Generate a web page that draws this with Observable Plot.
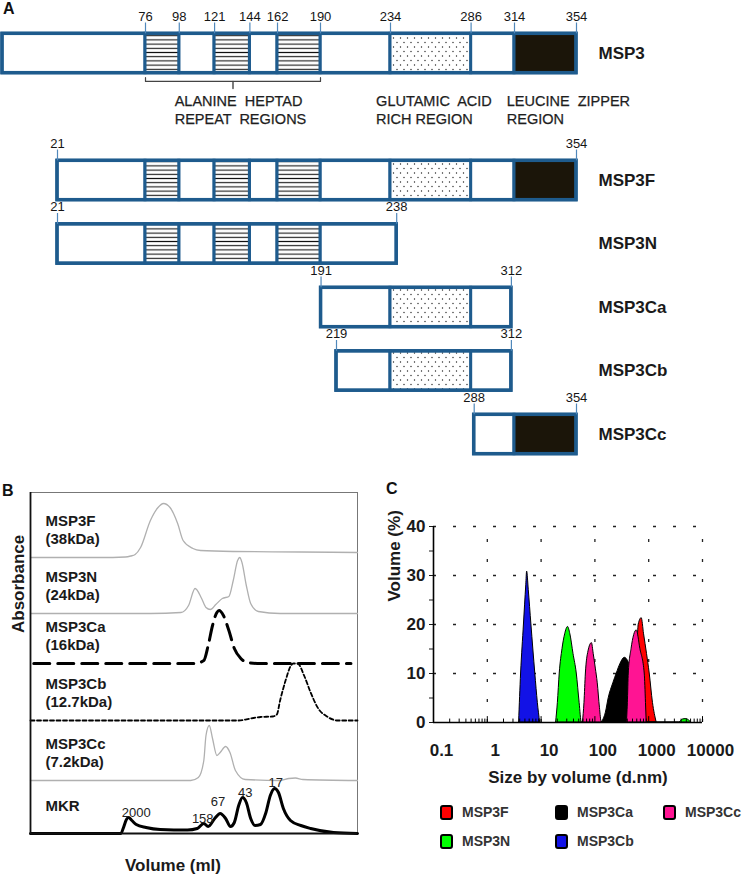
<!DOCTYPE html>
<html><head><meta charset="utf-8">
<script src="https://cdn.jsdelivr.net/npm/d3@7"></script>
<script src="https://cdn.jsdelivr.net/npm/@observablehq/plot@0.6"></script>
<style>
body{margin:0;background:#fff;}
#root{position:relative;width:745px;height:878px;overflow:hidden;background:#fff;font-family:"Liberation Sans",Arial,sans-serif;}
.panel{position:absolute;}
.letter{position:absolute;font-weight:bold;font-size:16px;color:#111;}
.legend{position:absolute;left:440px;top:802px;display:grid;grid-template-columns:115px 108px 90px;row-gap:9px;font-weight:bold;font-size:14px;color:#333;}
.item{display:flex;align-items:center;height:20px;white-space:nowrap;}
.sw{width:9px;height:11px;border:2px solid #000;border-radius:3px;margin-right:9px;flex:none;}
</style></head><body><div id="root"></div><script>
// ---------- Panel A data ----------
const constructNames = ["MSP3","MSP3F","MSP3N","MSP3Ca","MSP3Cb","MSP3Cc"];
const constructRows = [0,2,3,4,5,6]; // row 1 holds the region annotations
const constructStart = [1,21,21,191,219,288];
const constructEnd = [354,354,238,312,312,354];
const regionStart = [76,121,162,234,314];
const regionEnd = [98,144,190,286,354];
const regionKind = ["heptad","heptad","heptad","glutamic","leucine"];
const msp3TickLabels = [76,98,121,144,162,190,234,286,314,354];
const annotationText = ["ALANINE  HEPTAD\nREPEAT  REGIONS","GLUTAMIC  ACID\nRICH REGION","LEUCINE  ZIPPER\nREGION"];
const annotationAt = [95,230,309];

// ---------- Panel B data (elution volume, absorbance above each baseline) ----------
const traceNames = ["MSP3F","MSP3N","MSP3Ca","MSP3Cb","MSP3Cc","MKR"];
const traceMasses = ["(38kDa)","(24kDa)","(16kDa)","(12.7kDa)","(7.2kDa)",""];
const traceOffsets = [27.6,22.0,17.0,11.3,5.3,0];
const fVol = [0,6.4,8.7,9.2,9.6,10.1,11.0,11.7,12.2,12.8,13.5,14.0,14.9,15.6,18.6,24.8,30];
const fAbs = [0,0,0.05,0.15,0.3,1.0,3.7,5.0,5.4,5.0,3.4,1.7,0.9,0.7,0.6,0.55,0.5];
const nVol = [0,11.0,13.8,14.5,15.1,15.7,16.1,16.5,17.0,17.6,18.2,18.6,19.0,19.2,19.4,19.8,20.2,20.9,22.9,30];
const nAbs = [0,0,0.1,0.8,2.5,1.5,0.6,0.4,0.9,1.5,1.7,3.3,5.3,5.6,5.1,2.8,1.0,0.2,0,0];
const caVol = [0.3,15.1,15.9,16.3,16.7,17.1,17.3,17.7,18.2,18.7,19.3,19.9,21.1,29.4];
const caAbs = [0,0,0.3,1.8,3.8,5.1,5.3,4.8,3.3,1.5,0.5,0.1,0,0];
const cbVol = [0,19.1,20.2,21.1,22.2,22.6,22.9,23.4,23.9,24.1,24.5,25.1,25.7,26.4,27.2,28.2,30];
const cbAbs = [0,0,0.2,0.35,0.4,0.6,2.0,4.0,5.5,5.7,5.7,4.5,2.8,1.2,0.4,0,0];
const ccVol = [0,14.7,15.4,15.9,16.1,16.4,16.7,17.1,17.4,17.9,18.3,18.8,19.7,22.9,23.7,24.3,25.0,30];
const ccAbs = [0,0,0.3,2.0,4.5,5.5,4.2,2.5,2.8,3.4,2.8,1.0,0.1,0,0.2,0.25,0.1,0];
const mkrVol = [0,8.3,8.5,8.8,9.0,9.3,9.7,10.6,11.9,14.4,15.3,15.9,16.3,16.9,17.4,17.9,18.35,18.7,19.1,19.45,19.8,20.2,20.6,21.1,21.6,22.0,22.4,22.75,23.2,23.85,24.8,25.7,27.8,30];
const mkrAbs = [0,0,0.5,1.4,1.6,1.3,0.9,0.6,0.4,0.35,0.5,1.0,0.7,1.5,2.0,1.5,0.7,1.1,2.8,3.6,3.1,1.5,0.8,0.9,2.1,3.8,4.5,4.1,2.5,1.3,0.8,0.5,0.1,0];
const markerLabels = ["2000","158","67","43","17"];
const markerVol = [9.7,15.8,17.2,19.7,22.5];
const markerAbs = [2.1,1.5,3.2,4.1,5.1];

// ---------- Panel C data (size in d.nm, volume %) ----------
const dlsNames = ["MSP3F","MSP3N","MSP3Ca","MSP3Cb","MSP3Cc"];
const dlsColors = ["#ff0000","#00ff00","#000000","#1212e6","#ff1493"];
const redSize = [430,520,600,653,741,820,930,1044,1200,1406];
const redVol = [0,5,12,20,21.3,18,14,10,4,0];
const greenSize = [19,20.5,22.2,25,28,31.6,35,40,46,52,57,3700,4300,5000,5800,6200];
const greenVol = [0,4,10,15,18,19.5,18,14,10,4,0,0,0.6,0.7,0.3,0];
const blackSize = [134,160,181,220,255,300,359,400,450,480,520,560];
const blackVol = [0,2,5,8,10,12,13.2,12.8,11,6,2,0];
const blueSize = [3.9,4.25,4.8,5.3,5.5,5.9,6.6,7.8,8.7,9.6];
const blueVol = [0,10,20,28,30.8,27,20,10,4,0];
const pinkSize = [60,64,68,76,88,95,104,113,124,134,390,410,426,480,600,700,843,890,918];
const pinkVol = [0,4,10,14.5,16.2,14,11,8,3,0,0,4,10,15,18.8,15,10,4,0];
const xTickLabels = [0.1,1,10,100,1000,10000];
const yTicks = [0,5,10,15,20,25,30,35,40];
const gridY = [10,20,30,40];
const gridX = [1,10,100,1000,10000];

// ---------- build ----------
const root = document.getElementById("root");
function place(el, left, top) {
  const d = document.createElement("div");
  d.className = "panel"; d.style.left = left + "px"; d.style.top = top + "px";
  d.appendChild(el); root.appendChild(d); return d;
}
const FONT = '"Liberation Sans", Arial, sans-serif';

// Panel A
const segments = [];
const outlines = [];
const tickData = [];
constructNames.forEach((name, i) => {
  const s = constructStart[i], e = constructEnd[i], row = constructRows[i];
  outlines.push({row, x1: s, x2: e});
  const inside = regionStart.map((rs, j) => ({s: rs, e: regionEnd[j], kind: regionKind[j]}))
    .filter(r => r.s >= s && r.e <= e);
  let cur = s;
  for (const r of inside) {
    if (r.s > cur) segments.push({row, x1: cur, x2: r.s, kind: "plain"});
    segments.push({row, x1: r.s, x2: r.e, kind: r.kind});
    cur = r.e;
  }
  if (cur < e) segments.push({row, x1: cur, x2: e, kind: "plain"});
  if (i === 0) msp3TickLabels.forEach(v => tickData.push({row, x: v}));
  else { tickData.push({row, x: s}); tickData.push({row, x: e}); }
});
const H = 0.31;
const BLUE = "#1e5b8d";
const fills = {plain: "white", heptad: "url(#hatch)", glutamic: "url(#dots)", leucine: "#1b1509"};
const heptadMid = (regionStart[0] + regionEnd[2]) / 2;
// schematic (non-proportional) residue axis, as in the original drawing
const residueWarp = d3.scaleLinear().domain([1, 21, 76, 190, 219, 234, 354]).range([0, 55, 143, 318, 334, 388, 574]);
const plotA = Plot.plot({
  width: 745, height: 470, marginLeft: 2, marginRight: 169, marginTop: 0, marginBottom: 0,
  x: {transform: residueWarp, domain: [0, 574], axis: null},
  y: {domain: [0, 6], range: [53, 434], axis: null},
  style: {fontFamily: FONT, fontSize: "13px", color: "#151515", background: "transparent", overflow: "visible"},
  marks: [
    ...Object.keys(fills).map(k => Plot.rect(segments.filter(d => d.kind === k), {
      x1: "x1", x2: "x2", y1: d => d.row - H, y2: d => d.row + H,
      fill: fills[k], stroke: BLUE, strokeWidth: 3
    })),
    Plot.rect(outlines, {x1: "x1", x2: "x2", y1: d => d.row - H, y2: d => d.row + H, fill: "none", stroke: BLUE, strokeWidth: 3.5}),
    Plot.ruleX(tickData, {x: "x", y1: d => d.row - H - 0.17, y2: d => d.row - H, stroke: "#5088bb", strokeWidth: 1.2}),
    Plot.text(tickData, {x: "x", y: "row", dy: -37, text: d => String(d.x)}),
    Plot.line([[regionStart[0], 0.38], [regionStart[0], 0.44], [regionEnd[2], 0.44], [regionEnd[2], 0.38]], {stroke: "#444", strokeWidth: 1.2}),
    Plot.line([[heptadMid, 0.44], [heptadMid, 0.55]], {stroke: "#444", strokeWidth: 1.4}),
    Plot.text(annotationText, {x: (d, i) => annotationAt[i], y: () => 1, dy: -7.5, textAnchor: "start", lineHeight: 1.25, fontSize: 14.5, fill: "#1e1e1e", stroke: "#1e1e1e", strokeWidth: 0.25}),
    Plot.text(constructNames, {y: (d, i) => constructRows[i], frameAnchor: "right", textAnchor: "start", dx: 22, fontWeight: "bold", fontSize: 17, fill: "#1a1a1a"})
  ]
});
const defs = d3.select(plotA).insert("defs", ":first-child");
const hatch = defs.append("pattern").attr("id", "hatch").attr("patternUnits", "userSpaceOnUse").attr("width", 8).attr("height", 4.2);
hatch.append("rect").attr("width", 8).attr("height", 4.2).attr("fill", "white");
hatch.append("line").attr("x1", 0).attr("x2", 8).attr("y1", 2.1).attr("y2", 2.1).attr("stroke", "#111").attr("stroke-width", 1.1);
const dots = defs.append("pattern").attr("id", "dots").attr("patternUnits", "userSpaceOnUse").attr("width", 7).attr("height", 9);
dots.append("rect").attr("width", 7).attr("height", 9).attr("fill", "white");
dots.append("circle").attr("cx", 1.5).attr("cy", 2).attr("r", 0.7).attr("fill", "#222");
dots.append("circle").attr("cx", 5).attr("cy", 6.5).attr("r", 0.7).attr("fill", "#222");
place(plotA, 0, 0);

// Panel B
const traceVols = [fVol, nVol, caVol, cbVol, ccVol, mkrVol];
const traceAbs = [fAbs, nAbs, caAbs, cbAbs, ccAbs, mkrAbs];
const traceStyles = [
  {stroke: "#b0b0b0", strokeWidth: 1.3},
  {stroke: "#b0b0b0", strokeWidth: 1.3},
  {stroke: "#000", strokeWidth: 3, strokeDasharray: "16,8"},
  {stroke: "#000", strokeWidth: 1.8, strokeDasharray: "4,2.5"},
  {stroke: "#b0b0b0", strokeWidth: 1.3},
  {stroke: "#000", strokeWidth: 3}
];
const traceLines = traceNames.map((n, i) => traceVols[i].map((v, j) => ({vol: v, y: traceOffsets[i] + traceAbs[i][j]})));
const plotB = Plot.plot({
  width: 372, height: 398, marginLeft: 30, marginRight: 15, marginTop: 12, marginBottom: 45,
  x: {domain: [0, 30], axis: null},
  y: {domain: [0, 34.1], axis: null},
  style: {fontFamily: FONT, fontSize: "15px", fontWeight: "bold", color: "#1a1a1a", background: "transparent", overflow: "visible"},
  marks: [
    Plot.frame({stroke: "#777", strokeWidth: 1}),
    ...traceLines.map((pts, i) => Plot.line(pts, {x: "vol", y: "y", curve: "monotone-x", strokeLinejoin: "round", ...traceStyles[i]})),
    Plot.ruleX([0], {stroke: "#111", strokeWidth: 1.8}),
    Plot.ruleY([0], {stroke: "#111", strokeWidth: 2}),
    Plot.text(traceNames, {x: () => 0, y: (d, i) => traceOffsets[i] + 2.8, dx: 15, textAnchor: "start", lineHeight: 1.2,
      text: (d, i) => traceMasses[i] ? d + "\n" + traceMasses[i] : d}),
    Plot.text(markerLabels, {x: (d, i) => markerVol[i], y: (d, i) => markerAbs[i], fontWeight: "normal", fontSize: 13, fill: "#222"}),
    Plot.text(["Absorbance"], {frameAnchor: "left", rotate: -90, dx: -12, dy: -30, fontSize: 17}),
    Plot.text(["Volume (ml)"], {frameAnchor: "bottom", dx: -21, dy: 37, fontSize: 17})
  ]
});
place(plotB, 0, 480);

// Panel C
const dlsSizes = [redSize, greenSize, blackSize, blueSize, pinkSize];
const dlsVols = [redVol, greenVol, blackVol, blueVol, pinkVol];
const drawOrder = [0, 1, 3, 2, 4];
const minorTicks = d3.scaleLog().domain([0.1, 10000]).ticks();
const isDecade = d => Math.abs(Math.log10(d) - Math.round(Math.log10(d))) < 1e-9;
const plotC = Plot.plot({
  width: 373, height: 315, marginLeft: 61, marginRight: 43, marginTop: 46, marginBottom: 73,
  x: {type: "log", domain: [0.1, 10000], axis: null},
  y: {domain: [0, 40], ticks: yTicks, tickSize: 4, tickPadding: 4, tickFormat: d => d % 10 === 0 ? String(d) : "", label: null},
  style: {fontFamily: FONT, fontSize: "17px", fontWeight: "bold", color: "#1a1a1a", background: "transparent", overflow: "visible"},
  marks: [
    Plot.ruleY(gridY, {x1: 0.1, x2: 10000, stroke: "#222", strokeWidth: 1.3, strokeDasharray: "3,17"}),
    Plot.ruleX(gridX, {y1: 0, y2: 40, stroke: "#222", strokeWidth: 1.3, strokeDasharray: "3,17"}),
    ...drawOrder.map(i => Plot.areaY(dlsSizes[i].map((s, j) => ({size: s, vol: dlsVols[i][j]})), {
      x: "size", y: "vol", curve: "monotone-x", fill: dlsColors[i], stroke: "#000", strokeWidth: 1
    })),
    Plot.ruleX(minorTicks, {y1: 0, y2: d => isDecade(d) ? 1.2 : 0.7, stroke: "#000", strokeWidth: 1}),
    Plot.ruleX([0.1], {y1: 0, y2: 40, stroke: "#000", strokeWidth: 1.6}),
    Plot.ruleY([0], {x1: 0.1, x2: 10000, stroke: "#000", strokeWidth: 1.6}),
    Plot.text(xTickLabels, {x: d => d, frameAnchor: "bottom", dy: 33, dx: 8, text: d => String(d)}),
    Plot.text(["Size by volume (d.nm)"], {frameAnchor: "bottom", dx: 10, dy: 60}),
    Plot.text(["Volume (%)"], {frameAnchor: "left", rotate: -90, dx: -39, dy: -23})
  ]
});
place(plotC, 372, 480);

// Legend for panel C
const legend = document.createElement("div");
legend.className = "legend";
const legendOrder = [0, 2, 4, 1, 3];
legendOrder.forEach(i => {
  const it = document.createElement("div"); it.className = "item";
  const sw = document.createElement("span"); sw.className = "sw"; sw.style.background = dlsColors[i];
  const tx = document.createElement("span"); tx.textContent = dlsNames[i];
  it.appendChild(sw); it.appendChild(tx); legend.appendChild(it);
});
root.appendChild(legend);

// Panel letters
[["A", 3, 0], ["B", 2, 482], ["C", 386, 480]].forEach(([t, l, tp]) => {
  const d = document.createElement("div"); d.className = "letter";
  d.style.left = l + "px"; d.style.top = tp + "px"; d.textContent = t; root.appendChild(d);
});
</script></body></html>
